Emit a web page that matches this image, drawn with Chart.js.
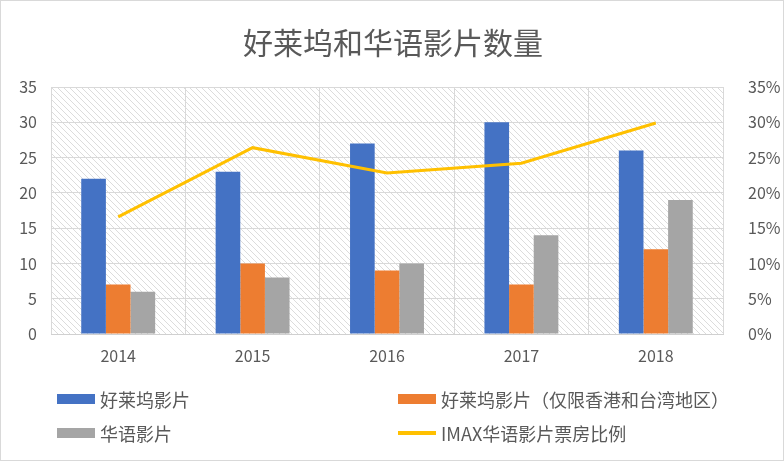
<!DOCTYPE html>
<html>
<head>
<meta charset="utf-8">
<script src="https://cdn.jsdelivr.net/npm/chart.js@4/dist/chart.umd.min.js"></script>
<style>
  html, body { margin: 0; padding: 0; background: #fff; }
  #wrap { position: relative; width: 784px; height: 461px; box-sizing: border-box; border: 1px solid #d9d9d9; overflow: hidden; }
  #chart { position: absolute; left: 0; top: 0; }
  #legend {
    position: absolute; left: 56px; top: 386px;
    display: grid; grid-template-columns: 341px auto; row-gap: 10px;
    font-family: "Noto Sans CJK SC", sans-serif; font-size: 18px; color: #595959;
  }
  .item { display: flex; align-items: center; height: 24px; }
  .swatch { width: 38px; margin-right: 5px; }
</style>
</head>
<body>
<div id="wrap">
  <canvas id="chart" width="784" height="461"></canvas>
  <div id="legend"></div>
</div>
<script>
const years = ['2014', '2015', '2016', '2017', '2018'];
const hollywood = [22, 23, 27, 30, 26];
const hollywoodHkTw = [7, 10, 9, 7, 12];
const chinese = [6, 8, 10, 14, 19];
const imaxShare = [16.6, 26.4, 22.8, 24.2, 29.9];

const textColor = '#595959';
const gridColor = '#d9d9d9';
const font = 'Noto Sans CJK SC, sans-serif';

// diagonal hatch for the plot area
function makeHatch() {
    const c = document.createElement('canvas');
    c.width = 6;
    c.height = 6;
    const g = c.getContext('2d');
    g.strokeStyle = '#dcdcdc';
    g.lineWidth = 1;
    g.beginPath();
    g.moveTo(0, 0); g.lineTo(6, 6);
    g.moveTo(-3, 3); g.lineTo(3, 9);
    g.moveTo(3, -3); g.lineTo(9, 3);
    g.stroke();
    return g.createPattern(c, 'repeat');
}

const hatchPlugin = {
    id: 'hatch',
    beforeDraw(chart) {
        const { ctx, chartArea } = chart;
        ctx.save();
        ctx.fillStyle = makeHatch();
        ctx.fillRect(chartArea.left, chartArea.top, chartArea.right - chartArea.left, chartArea.bottom - chartArea.top);
        ctx.restore();
    }
};

const chart = new Chart(document.getElementById('chart').getContext('2d'), {
    data: {
        labels: years,
        datasets: [
            { type: 'bar', label: '好莱坞影片', data: hollywood, backgroundColor: '#4472c4', yAxisID: 'y', order: 1 },
            { type: 'bar', label: '好莱坞影片（仅限香港和台湾地区）', data: hollywoodHkTw, backgroundColor: '#ed7d31', yAxisID: 'y', order: 1 },
            { type: 'bar', label: '华语影片', data: chinese, backgroundColor: '#a5a5a5', yAxisID: 'y', order: 1 },
            {
                type: 'line', label: 'IMAX华语影片票房比例', data: imaxShare,
                borderColor: '#ffc000', backgroundColor: '#ffc000', borderWidth: 3,
                pointRadius: 0, tension: 0, yAxisID: 'y1', order: 0
            }
        ]
    },
    options: {
        responsive: false,
        animation: false,
        datasets: { bar: { categoryPercentage: 0.55, barPercentage: 1 } },
        layout: { padding: { bottom: 88 } },
        plugins: {
            legend: { display: false },
            tooltip: { enabled: false },
            title: {
                display: true,
                text: '好莱坞和华语影片数量',
                color: textColor,
                font: { family: font, size: 30, weight: 'normal' },
                padding: { top: 24, bottom: 26 }
            }
        },
        scales: {
            x: {
                grid: { color: gridColor, drawTicks: false },
                border: { color: '#d0d0d0' },
                ticks: { color: textColor, font: { family: font, size: 16 }, padding: 12 },
                afterFit(scale) { scale.height = 40; }
            },
            y: {
                position: 'left',
                min: 0, max: 35,
                grid: { color: gridColor, drawTicks: false },
                border: { display: false },
                ticks: { stepSize: 5, color: textColor, font: { family: font, size: 16 }, padding: 14 },
                afterFit(scale) { scale.width = 50; }
            },
            y1: {
                position: 'right',
                min: 0, max: 35,
                grid: { display: false },
                border: { display: false },
                ticks: {
                    stepSize: 5, color: textColor, font: { family: font, size: 16 }, padding: 17,
                    callback: v => v + '%'
                },
                afterFit(scale) { scale.width = 62; }
            }
        }
    },
    plugins: [hatchPlugin]
});

// legend in two columns, built from the datasets
const legend = document.getElementById('legend');
chart.data.datasets.forEach(ds => {
    const item = document.createElement('div');
    item.className = 'item';
    const sw = document.createElement('span');
    sw.className = 'swatch';
    sw.style.background = ds.borderColor && ds.type === 'line' ? ds.borderColor : ds.backgroundColor;
    sw.style.height = ds.type === 'line' ? '4px' : '10px';
    const txt = document.createElement('span');
    txt.textContent = ds.label;
    item.appendChild(sw);
    item.appendChild(txt);
    legend.appendChild(item);
});
</script>
</body>
</html>
